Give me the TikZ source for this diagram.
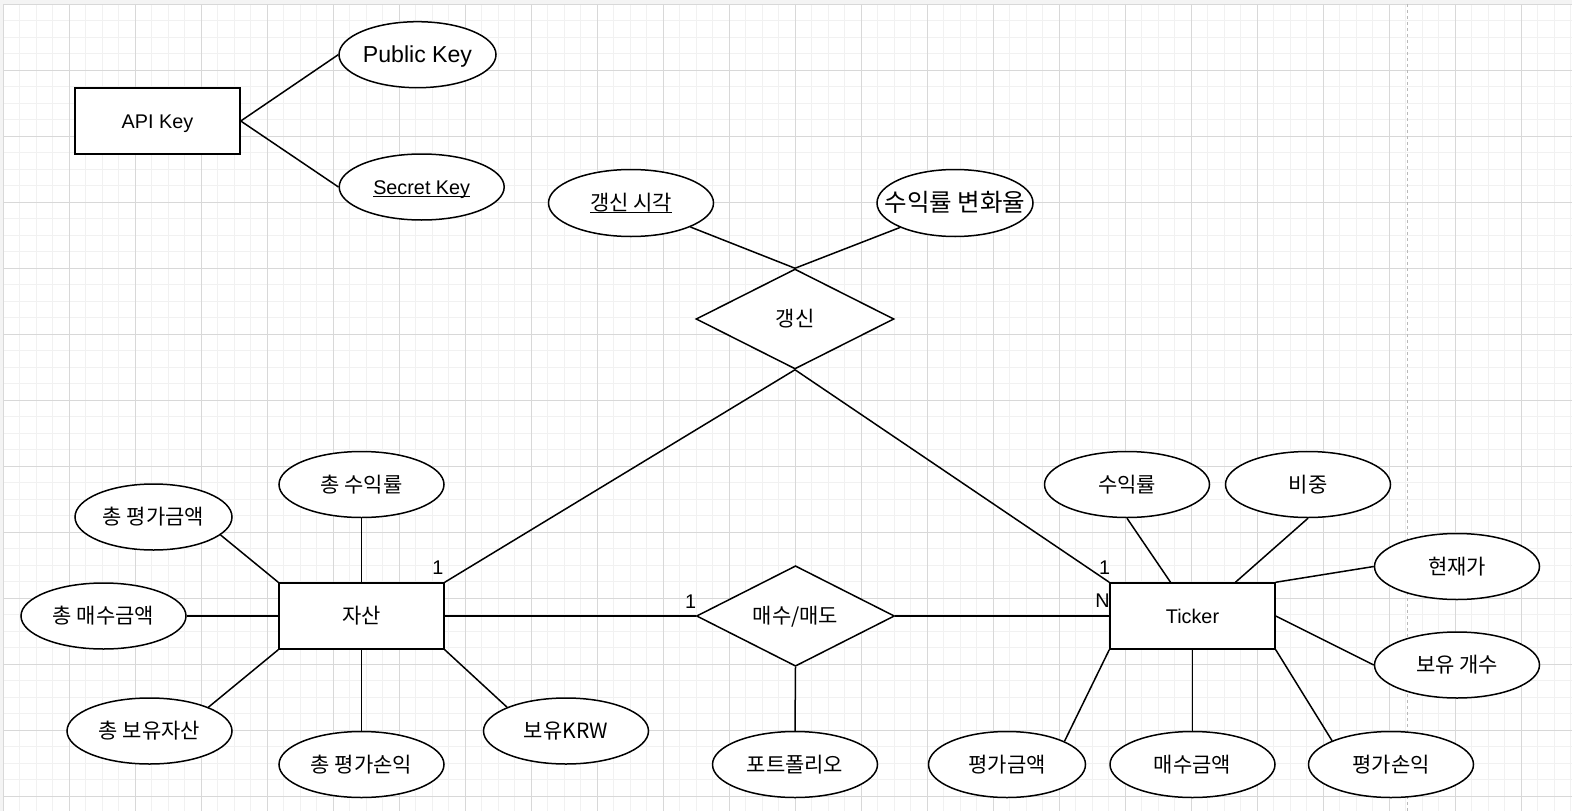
\documentclass[tikz,border=0pt]{standalone}
\usepackage{fontspec}
\setmainfont{Liberation Sans}
\newfontfamily\kr{Noto Sans CJK KR}
\usetikzlibrary{shapes.geometric,calc}
\newcommand{\myul}[1]{\setbox0\hbox{#1}\rlap{\rule[-2.8pt]{\wd0}{1.3pt}}\box0}
\definecolor{minorgrid}{RGB}{241,241,241}
\definecolor{majorgrid}{RGB}{216,216,216}
\definecolor{marginc}{RGB}{244,244,244}
\definecolor{dashc}{RGB}{185,185,185}
\begin{document}
\begin{tikzpicture}[x=1pt,y=-1pt,
  latin/.style={font=\fontsize{19.8}{24}\selectfont,text height=14.2pt,text depth=0pt},
  korean/.style={font=\kr\fontsize{21}{25}\selectfont,text height=15pt,text depth=0pt},
  ent/.style={draw,line width=1.5pt,fill=white,rectangle,minimum width=165pt,minimum height=66pt,inner sep=0pt,latin},
  attr/.style={draw,line width=1.5pt,fill=white,ellipse,minimum width=165pt,minimum height=66pt,inner sep=0pt,korean},
  rel/.style={draw,diamond,line width=1.5pt,fill=white,minimum width=198pt,minimum height=99pt,inner sep=0pt,korean},
  conn/.style={line width=1.5pt},
  card/.style={inner sep=0pt,font=\fontsize{19.8}{24}\selectfont}]
\useasboundingbox (0,0) rectangle (1572,811);
\fill[marginc] (0,0) rectangle (1572,811);
\fill[white] (3,4) rectangle (1572,811);
% grid
\foreach \i in {0,...,95} \draw[minorgrid,line width=0.8pt] ({3+16.5*\i},4) -- ({3+16.5*\i},811);
\foreach \j in {0,...,49} \draw[minorgrid,line width=0.8pt] (3,{4+16.5*\j}) -- (1572,{4+16.5*\j});
\foreach \i in {0,...,23} \draw[majorgrid,line width=0.8pt] ({3+66*\i},4) -- ({3+66*\i},811);
\foreach \j in {0,...,12} \draw[majorgrid,line width=0.8pt] (3,{4+66*\j}) -- (1572,{4+66*\j});
\draw[dashc,line width=1pt,dash pattern=on 3pt off 3pt] (1407.7,4) -- (1407.7,811);

% entities
\node[ent] (api) at (157.5,121) {API Key};
\node[ent,korean] (asset) at (361.5,616) {자산};
\node[ent] (ticker) at (1192.5,616) {Ticker};

% relations
\node[rel,minimum height=100pt] (upd) at (795,319) {갱신};
\node[rel] (trade) at (795.5,616) {매수/매도};

% attributes
\node[attr,minimum width=157pt,font=\fontsize{23.1}{28}\selectfont,text height=16.5pt] (pub) at (417.5,54.7) {\makebox[0pt]{Public Key}};
\node[attr,latin] (sec) at (421.7,187) {\makebox[0pt]{\myul{Secret Key}}};
\node[attr,minimum height=67pt] (updt) at (631,203) {\makebox[0pt]{\myul{갱신 시각}}};
\node[attr,minimum width=156pt,minimum height=67pt,font=\kr\fontsize{24.5}{29}\selectfont,text height=17.5pt] (rchg) at (955,203) {\makebox[0pt]{수익률 변화율}};

\node[attr] (tret) at (361.5,484.5) {\makebox[0pt]{총 수익률}};
\node[attr,minimum width=157pt] (tval) at (153.5,517) {\makebox[0pt]{총 평가금액}};
\node[attr] (tbuy) at (103.5,616) {\makebox[0pt]{총 매수금액}};
\node[attr] (thold) at (149.5,731) {\makebox[0pt]{총 보유자산}};
\node[attr] (tpl) at (361.5,764.5) {\makebox[0pt]{총 평가손익}};
\node[attr] (krw) at (566,731) {\makebox[0pt]{보유KRW}};

\node[attr] (port) at (795,764.5) {\makebox[0pt]{포트폴리오}};

\node[attr,minimum width=157pt] (val) at (1007,764.5) {\makebox[0pt]{평가금액}};
\node[attr] (buy) at (1192.5,764.5) {\makebox[0pt]{매수금액}};
\node[attr] (pl) at (1391,764.5) {\makebox[0pt]{평가손익}};
\node[attr] (ret) at (1127,484.5) {\makebox[0pt]{수익률}};
\node[attr] (wgt) at (1308,484.5) {\makebox[0pt]{비중}};
\node[attr] (cur) at (1457,566.5) {\makebox[0pt]{현재가}};
\node[attr] (cnt) at (1457,665) {\makebox[0pt]{보유 개수}};

% connectors
\draw[conn] (api.east) -- (pub.west);
\draw[conn] (api.east) -- (sec.west);
\draw[conn] (updt.-22) -- (upd.north);
\draw[conn] (rchg.-156) -- (upd.north);
\draw[conn] (upd.south) -- (asset.north east);
\draw[conn] (upd.south) -- (ticker.north west);
\draw[conn] (asset.east) -- (trade.west);
\draw[conn] (trade.east) -- (ticker.west);
\draw[conn] (trade.south) -- (port.north);
\draw[conn] (tval.-15) -- (asset.north west);
\draw[conn] (tret.south) -- (asset.north);
\draw[conn] (tbuy.east) -- (asset.west);
\draw[conn] (thold.22) -- (asset.south west);
\draw[conn] (tpl.north) -- (asset.south);
\draw[conn] (krw.158) -- (asset.south east);
\draw[conn] (ret.south) -- ($(ticker.north west)!0.368!(ticker.north east)$);
\draw[conn] (wgt.south) -- ($(ticker.north west)!0.758!(ticker.north east)$);
\draw[conn] (cur.west) -- (ticker.north east);
\draw[conn] (cnt.west) -- (ticker.east);
\draw[conn] (pl.158) -- (ticker.south east);
\draw[conn] (buy.north) -- (ticker.south);
\draw[conn] (val.22) -- (ticker.south west);

% cardinalities
\node[card] (c1) at (438,568) {1};
\node[card] (c2) at (690.5,601.7) {1};
\node[card] (c3) at (1104.5,568) {1};
\node[card] (c4) at (1102.6,601) {N};
\end{tikzpicture}
\end{document}
